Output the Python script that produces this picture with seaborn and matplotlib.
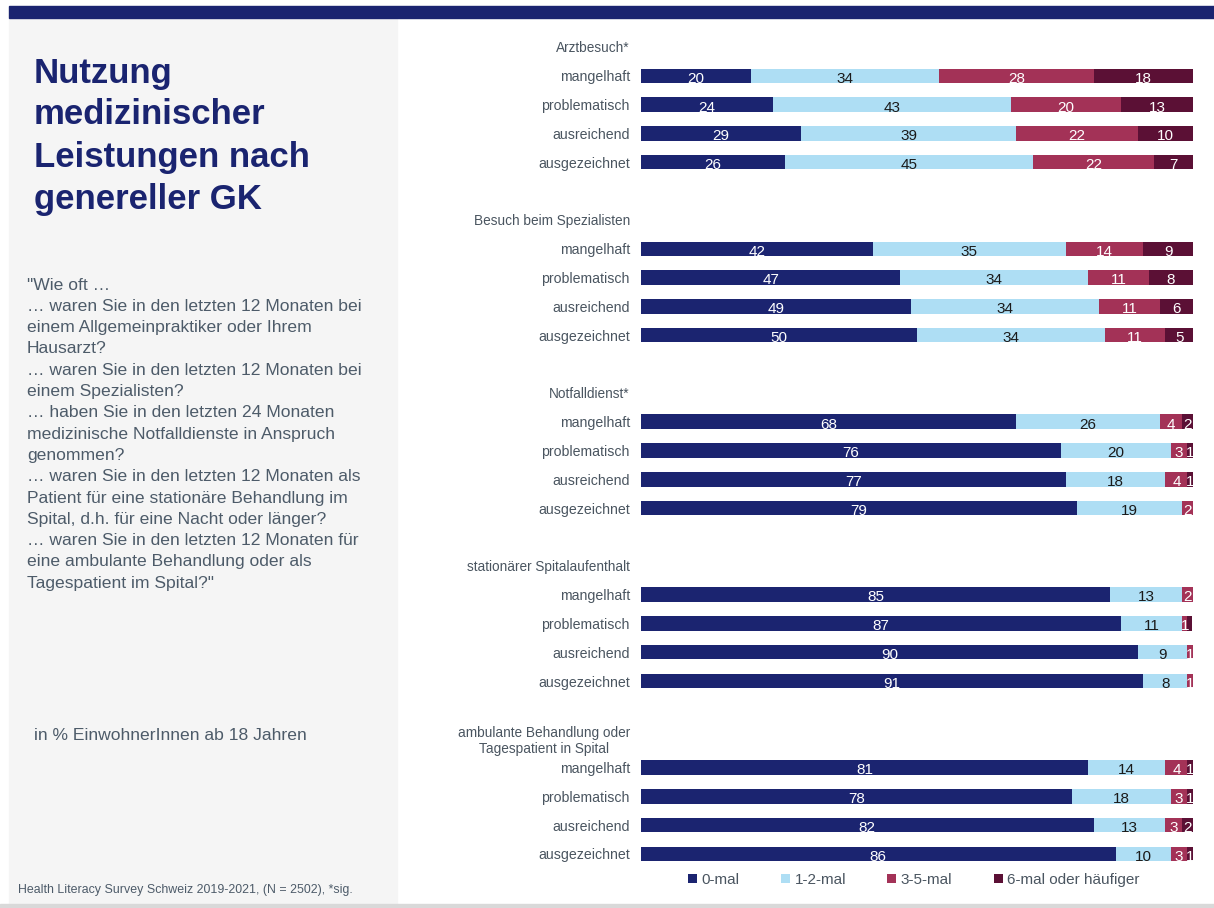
import numpy as np
import pandas as pd
import matplotlib
matplotlib.use("Agg")
import matplotlib.pyplot as plt
from matplotlib.patches import Rectangle, Patch
import seaborn as sns

# ---- data -----------------------------------------------------------------
groups = [
    "Arztbesuch*",
    "Besuch beim Spezialisten",
    "Notfalldienst*",
    "stationärer Spitalaufenthalt",
    "ambulante Behandlung oder\nTagespatient in Spital",
]
levels = ["mangelhaft", "problematisch", "ausreichend", "ausgezeichnet"]
segments = ["0-mal", "1-2-mal", "3-5-mal", "6-mal oder häufiger"]

# rows: one list per group, each row = [0-mal, 1-2-mal, 3-5-mal, 6+]
arzt = [[20, 34, 28, 18], [24, 43, 20, 13], [29, 39, 22, 10], [26, 45, 22, 7]]
spezialist = [[42, 35, 14, 9], [47, 34, 11, 8], [49, 34, 11, 6], [50, 34, 11, 5]]
notfall = [[68, 26, 4, 2], [76, 20, 3, 1], [77, 18, 4, 1], [79, 19, 2, 0]]
stationaer = [[85, 13, 2, 0], [87, 11, 1, 0.9], [90, 9, 1, 0], [91, 8, 1, 0]]
ambulant = [[81, 14, 4, 1], [78, 18, 3, 1], [82, 13, 3, 2], [86, 10, 3, 1]]
values = [arzt, spezialist, notfall, stationaer, ambulant]

colors = ["#1b2470", "#aedef4", "#a33257", "#5b1035"]
label_colors = ["white", "#1a1a1a", "white", "white"]

# ---- layout of slots: header, 4 rows, spacer per group ---------------------
order, ticklabels, header_slots = [], [], []
records = []
for g, (gname, gvals) in enumerate(zip(groups, values)):
    order.append(f"h{g}")
    ticklabels.append(gname)
    header_slots.append(len(order) - 1)
    for r, (lvl, row) in enumerate(zip(levels, gvals)):
        key = f"{g}-{r}"
        order.append(key)
        ticklabels.append(lvl)
        cum = np.cumsum(row)
        for s in range(4):
            records.append({"key": key, "segment": segments[s],
                            "value": row[s], "cum": cum[s],
                            "start": cum[s] - row[s]})
    if g < len(groups) - 1:
        order.append(f"b{g}")
        ticklabels.append("")
df = pd.DataFrame(records)

# ---- figure ----------------------------------------------------------------
W, H, DPI = 1214, 908, 100
sns.set_theme(style="white")
plt.rcParams["font.family"] = ["Liberation Sans", "DejaVu Sans"]
fig = plt.figure(figsize=(W / DPI, H / DPI), dpi=DPI)
fig.patch.set_facecolor("white")

def fx(px):
    return px / W

def fy(py):
    return 1 - py / H

# background panels
fig.patches.append(Rectangle((fx(9), fy(904)), fx(388), (904 - 18) / H,
                             transform=fig.transFigure, color="#f5f5f5", zorder=0))
fig.patches.append(Rectangle((fx(9), fy(18)), fx(W - 9), 12 / H,
                             transform=fig.transFigure, color="#1a2470", zorder=0))
fig.patches.append(Rectangle((0, 0), 1, 4 / H,
                             transform=fig.transFigure, color="#d9d9d9", zorder=0))

# chart axes
step = (854 - 47) / 28
top_px, bot_px = 47 - step / 2, 854 + step / 2
ax = fig.add_axes([fx(641), fy(bot_px), fx(1193 - 641), (bot_px - top_px) / H])
ax.set_facecolor("none")

for s in reversed(range(4)):
    sub = df[df["segment"] == segments[s]]
    sns.barplot(data=sub, x="cum", y="key", order=order, orient="h",
                color=colors[s], width=0.5, saturation=1, ax=ax,
                edgecolor="none", linewidth=0)

ax.set_xlim(0, 100)
ax.set_ylim(len(order) - 0.5, -0.5)
ax.set_xlabel("")
ax.set_ylabel("")
ax.set_xticks([])
ax.set_yticks(range(len(order)))
ax.set_yticklabels(ticklabels, fontsize=10.2, color="#4a5560")
for i, t in enumerate(ax.get_yticklabels()):
    if i in header_slots:
        t.set_fontsize(9.8)
        t.set_multialignment("center")
ax.tick_params(axis="y", length=0, pad=8)
for sp in ax.spines.values():
    sp.set_visible(False)

# segment value labels (segments below 1 % stay unlabelled)
pos = {k: i for i, k in enumerate(order)}
for _, rec in df.iterrows():
    if rec["value"] < 1:
        continue
    s = segments.index(rec["segment"])
    ax.text(rec["start"] + rec["value"] / 2, pos[rec["key"]] + 0.1,
            f"{rec['value']:g}", ha="center", va="center",
            fontsize=11, color=label_colors[s])

# legend
handles = [Patch(facecolor=c, edgecolor="none") for c in colors]
leg = fig.legend(handles, segments, loc="center left",
                 bbox_to_anchor=(fx(680), fy(880)), ncol=4, frameon=False,
                 fontsize=11, handlelength=0.6, handleheight=0.6,
                 handletextpad=0.3, columnspacing=2.7, borderpad=0)
for t in leg.get_texts():
    t.set_color("#4a5560")

# left panel text
title_lines = ["Nutzung", "medizinischer", "Leistungen nach", "genereller GK"]
for i, line in enumerate(title_lines):
    fig.text(fx(34), fy(73 + 42 * i), line, fontsize=25, fontweight="bold",
             color="#1a2470", ha="left", va="center")

question = [
    "\"Wie oft …",
    "… waren Sie in den letzten 12 Monaten bei",
    "einem Allgemeinpraktiker oder Ihrem",
    "Hausarzt?",
    "… waren Sie in den letzten 12 Monaten bei",
    "einem Spezialisten?",
    "… haben Sie in den letzten 24 Monaten",
    "medizinische Notfalldienste in Anspruch",
    "genommen?",
    "… waren Sie in den letzten 12 Monaten als",
    "Patient für eine stationäre Behandlung im",
    "Spital, d.h. für eine Nacht oder länger?",
    "… waren Sie in den letzten 12 Monaten für",
    "eine ambulante Behandlung oder als",
    "Tagespatient im Spital?\"",
]
for i, line in enumerate(question):
    fig.text(fx(27), fy(285 + 21.3 * i), line, fontsize=12.6, color="#4d5b69",
             ha="left", va="center")

fig.text(fx(34), fy(735), "in % EinwohnerInnen ab 18 Jahren", fontsize=12.6,
         color="#4d5b69", ha="left", va="center")
fig.text(fx(18), fy(890), "Health Literacy Survey Schweiz 2019-2021, (N = 2502), *sig.",
         fontsize=8.9, color="#4d5b69", ha="left", va="center")

fig.savefig("out.png", dpi=DPI)
